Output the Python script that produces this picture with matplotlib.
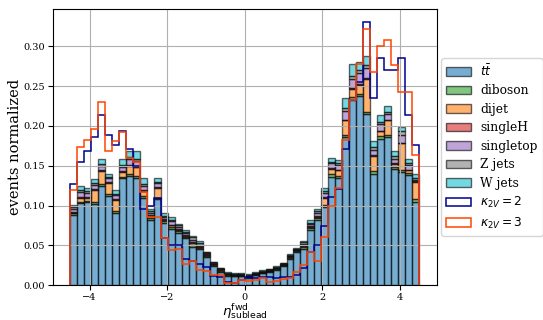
import numpy as np
import matplotlib
matplotlib.use("Agg")
import matplotlib.pyplot as plt

plt.rcParams['font.family'] = 'serif'

# 50 bins from -4.5 to 4.5
edges = np.linspace(-4.5, 4.5, 51)
centers = 0.5 * (edges[:-1] + edges[1:])

labels = [r'$t\bar{t}$', 'diboson', 'dijet', 'singleH', 'singletop', 'Z jets', 'W jets']
colors = ['tab:blue', 'tab:green', 'tab:orange', 'tab:red', 'tab:purple', 'tab:gray', 'tab:cyan']

ttbar = [0.088, 0.103, 0.104, 0.102, 0.125, 0.112, 0.091, 0.134, 0.137, 0.135,
         0.110, 0.082, 0.108, 0.078, 0.071, 0.066, 0.059, 0.048, 0.045, 0.035,
         0.024, 0.017, 0.012, 0.011, 0.011, 0.0095, 0.0122, 0.0146, 0.0165, 0.0195,
         0.024, 0.033, 0.042, 0.046, 0.069, 0.0815, 0.098, 0.136, 0.134, 0.186,
         0.233, 0.237, 0.215, 0.140, 0.184, 0.186, 0.146, 0.142, 0.138, 0.105]
diboson = [0.002] * 17 + [0.003, 0.002, 0.002] + [0.001] * 13 + [0.002, 0.0025, 0.0025] + [0.003] * 14
dijet = [0.001, 0.005, 0.004, 0.016, 0.016, 0.014, 0.014, 0.006, 0.011, 0.011,
         0.006, 0.003, 0.012, 0.002, 0.002, 0.001, 0.001, 0.002, 0.001, 0.001,
         0.001, 0.001, 0.0005, 0.0005, 0.0005, 0.0005, 0.0005, 0.0005, 0.0005, 0.0005,
         0.0005, 0.001, 0.0005, 0.001, 0.002, 0.002, 0.009, 0.007, 0.007, 0.018,
         0.010, 0.012, 0.041, 0.019, 0.006, 0.018, 0.003, 0.033, 0.003, 0.022]
singleH = [0.001] * 22 + [0.0005] * 9 + [0.001] * 19
singletop = [0.004, 0.006, 0.005, 0.005, 0.006, 0.005, 0.005, 0.006, 0.007, 0.007,
             0.006, 0.003, 0.005, 0.003, 0.004, 0.003, 0.003, 0.003, 0.002, 0.001,
             0.001, 0.0005, 0.0005, 0.0005, 0.0005, 0.0005, 0.0005, 0.0005, 0.0005, 0.0005,
             0.0005, 0.001, 0.0005, 0.002, 0.002, 0.004, 0.005, 0.006, 0.006, 0.011,
             0.012, 0.013, 0.013, 0.007, 0.008, 0.007, 0.006, 0.010, 0.006, 0.001]
zjets = [0.002, 0.002, 0.002, 0.002, 0.002, 0.002, 0.002, 0.002, 0.003, 0.003,
         0.002, 0.002, 0.002, 0.001, 0.002, 0.002, 0.001, 0.003, 0.002, 0.001,
         0.001, 0.001, 0.001, 0.001, 0.001, 0.001, 0.001, 0.001, 0.001, 0.001,
         0.001, 0.001, 0.001, 0.002, 0.002, 0.002, 0.002, 0.002, 0.002, 0.004,
         0.004, 0.004, 0.003, 0.003, 0.003, 0.003, 0.003, 0.004, 0.003, 0.003]
wjets = [0.003, 0.005, 0.004, 0.005, 0.006, 0.004, 0.005, 0.007, 0.007, 0.009,
         0.007, 0.003, 0.004, 0.003, 0.003, 0.002, 0.002, 0.002, 0.002, 0.001,
         0.0005, 0.0005, 0.0005, 0.0005, 0.0005, 0.0005, 0.0005, 0.0005, 0.0005, 0.0005,
         0.0005, 0.001, 0.0005, 0.002, 0.003, 0.003, 0.004, 0.005, 0.004, 0.012,
         0.015, 0.010, 0.012, 0.008, 0.009, 0.007, 0.007, 0.006, 0.004, 0.004]

k2v_2 = [0.127, 0.155, 0.168, 0.186, 0.214, 0.189, 0.176, 0.194, 0.171, 0.150,
         0.095, 0.099, 0.110, 0.059, 0.050, 0.050, 0.033, 0.030, 0.026, 0.023,
         0.011, 0.010, 0.004, 0.003, 0.006, 0.010, 0.0085, 0.0105, 0.0105, 0.0085,
         0.0105, 0.0105, 0.0125, 0.021, 0.042, 0.050, 0.074, 0.111, 0.121, 0.171,
         0.232, 0.255, 0.330, 0.235, 0.285, 0.270, 0.270, 0.285, 0.214, 0.176]
k2v_3 = [0.120, 0.173, 0.182, 0.196, 0.230, 0.168, 0.181, 0.192, 0.160, 0.155,
         0.117, 0.086, 0.086, 0.059, 0.044, 0.046, 0.027, 0.030, 0.019, 0.018,
         0.0125, 0.0125, 0.003, 0.003, 0.007, 0.005, 0.0063, 0.009, 0.0033, 0.005,
         0.0075, 0.0085, 0.0167, 0.025, 0.042, 0.030, 0.060, 0.099, 0.122, 0.182,
         0.232, 0.278, 0.322, 0.268, 0.300, 0.308, 0.277, 0.243, 0.243, 0.163]

fig = plt.figure(figsize=(5.43, 3.2), dpi=100)
ax = fig.add_axes([0.097, 0.109, 0.707, 0.862])

stack = [ttbar, diboson, dijet, singleH, singletop, zjets, wjets]
ax.hist([centers] * len(stack), bins=edges, weights=stack, stacked=True,
        color=colors, alpha=0.6, edgecolor='k', linewidth=1.0, label=labels)
ax.hist(centers, bins=edges, weights=k2v_2, histtype='step', color='darkblue',
        linewidth=1.1, label=r'$\kappa_{2V}=2$')
ax.hist(centers, bins=edges, weights=k2v_3, histtype='step', color='orangered',
        linewidth=1.1, label=r'$\kappa_{2V}=3$')

ax.grid(True)
ax.tick_params(labelsize=7, pad=2)
ax.set_xlabel(r'$\eta^{\mathrm{fwd}}_{\mathrm{sublead}}$', fontsize=9.5, labelpad=0)
ax.set_ylabel('events normalized', fontsize=10.5, labelpad=1)
ax.legend(loc='center left', bbox_to_anchor=(1.012, 0.5), fontsize=8.8,
          labelspacing=0.45, borderaxespad=0.0)

fig.savefig('out.png', dpi=100)
